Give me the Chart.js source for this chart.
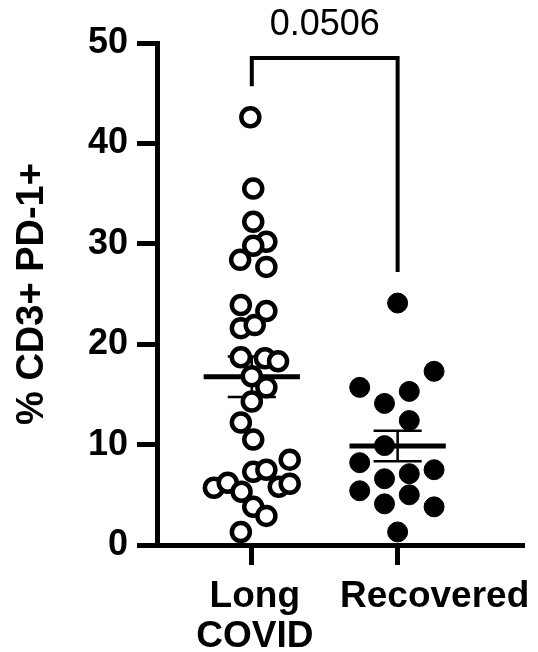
<!DOCTYPE html>
<html>
<head>
<meta charset="utf-8">
<script src="https://cdn.jsdelivr.net/npm/chart.js@4.4.1/dist/chart.umd.min.js"></script>
<style>
    html, body { margin: 0; padding: 0; background: #fff; }
    #wrap { width: 538px; height: 652px; }
</style>
</head>
<body>
<div id="wrap"><canvas id="dot-chart"></canvas></div>
<script>
const groups = ["Long COVID", "Recovered"];
const groupLabels = [["Long", "COVID"], ["Recovered"]];
const yTicks = [0, 10, 20, 30, 40, 50];

// % CD3+ PD-1+ per donor
const longCovidValues = [42.6, 35.5, 32.2, 30.2, 29.8, 28.4, 27.7, 23.9, 23.3, 21.6,
    21.9, 18.7, 18.6, 18.3, 16.8, 15.7, 14.3, 12.2, 10.5, 8.5,
    7.3, 7.5, 5.7, 6.2, 5.3, 5.8, 6.1, 3.8, 2.9, 1.3];
// horizontal scatter of each dot, in category widths
const longCovidJitter = [-0.01, 0.01, 0.01, 0.1, 0.01, -0.08, 0.1, -0.075, 0.1, -0.075,
    0.02, -0.075, 0.09, 0.18, 0, 0.1, 0, -0.075, 0.01, 0.26,
    0.01, 0.1, -0.26, -0.165, -0.07, 0.185, 0.26, 0.01, 0.1, -0.075];

const recoveredValues = [24.1, 17.3, 15.7, 15.3, 14.1, 12.4, 9.9, 8.2, 6.6, 7.1,
    7.5, 5.4, 4.1, 5.0, 3.8, 1.3];
const recoveredJitter = [0, 0.25, -0.26, 0.08, -0.09, 0.08, -0.09, -0.26, -0.09, 0.08,
    0.25, -0.26, -0.09, 0.08, 0.25, 0];

// significance bracket: top, left leg end, right leg end, label
const bracketY = [48.5, 45.7, 27.2];
const pValueText = "0.0506";
const pValueY = 50.8;

const FONT = "'Liberation Sans', Arial, Helvetica, sans-serif";
// group labels sit a little right of their tick, like in the prism export
const labelShift = [3, 37];

function toPoints(values, jitter, pos) {
    return values.map((v, i) => ({ x: pos + jitter[i], y: v }));
}

function meanSem(values) {
    const n = values.length;
    const mean = values.reduce((a, b) => a + b, 0) / n;
    const sd = Math.sqrt(values.reduce((a, b) => a + (b - mean) * (b - mean), 0) / (n - 1));
    return { mean, sem: sd / Math.sqrt(n) };
}

const summaries = [meanSem(longCovidValues), meanSem(recoveredValues)];

const meanBarsPlugin = {
    id: "meanBars",
    // mean + SEM bars, drawn under the dots
    beforeDatasetsDraw(chart) {
        const { ctx, scales: { x, y } } = chart;
        ctx.save();
        ctx.strokeStyle = "#000";
        summaries.forEach((s, i) => {
            const pos = i + 1;
            ctx.lineWidth = 5;
            ctx.beginPath();
            ctx.moveTo(x.getPixelForValue(pos - 0.33), y.getPixelForValue(s.mean));
            ctx.lineTo(x.getPixelForValue(pos + 0.33), y.getPixelForValue(s.mean));
            ctx.stroke();

            ctx.lineWidth = 2.5;
            const lo = y.getPixelForValue(s.mean - s.sem);
            const hi = y.getPixelForValue(s.mean + s.sem);
            const cx = x.getPixelForValue(pos);
            ctx.beginPath();
            ctx.moveTo(cx, lo);
            ctx.lineTo(cx, hi);
            [lo, hi].forEach(py => {
                ctx.moveTo(x.getPixelForValue(pos - 0.165), py);
                ctx.lineTo(x.getPixelForValue(pos + 0.165), py);
            });
            ctx.stroke();
        });
        ctx.restore();
    },
    afterDraw(chart) {
        const { ctx, chartArea, scales: { x, y } } = chart;
        const x1 = x.getPixelForValue(1);
        const x2 = x.getPixelForValue(2);
        ctx.save();
        ctx.strokeStyle = "#000";
        ctx.lineWidth = 4;
        ctx.lineJoin = "miter";
        ctx.beginPath();
        ctx.moveTo(x1, y.getPixelForValue(bracketY[1]));
        ctx.lineTo(x1, y.getPixelForValue(bracketY[0]));
        ctx.lineTo(x2, y.getPixelForValue(bracketY[0]));
        ctx.lineTo(x2, y.getPixelForValue(bracketY[2]));
        ctx.stroke();

        ctx.fillStyle = "#000";
        ctx.font = "36px " + FONT;
        ctx.textAlign = "center";
        ctx.textBaseline = "alphabetic";
        ctx.fillText(pValueText, (x1 + x2) / 2, y.getPixelForValue(pValueY));

        // category labels
        ctx.font = "bold 37px " + FONT;
        groupLabels.forEach((lines, i) => {
            const cx = x.getPixelForValue(i + 1) + labelShift[i];
            lines.forEach((line, j) => {
                ctx.fillText(line, cx, chartArea.bottom + 62 + j * 40);
            });
        });
        ctx.restore();
    }
};

new Chart(document.getElementById("dot-chart"), {
    type: "scatter",
    data: {
        datasets: [
            {
                label: groups[0],
                data: toPoints(longCovidValues, longCovidJitter, 1),
                pointRadius: 9,
                pointBorderWidth: 4.5,
                pointBackgroundColor: "#fff",
                pointBorderColor: "#000",
                pointHoverRadius: 9
            },
            {
                label: groups[1],
                data: toPoints(recoveredValues, recoveredJitter, 2),
                pointRadius: 10,
                pointBorderWidth: 1,
                pointBackgroundColor: "#000",
                pointBorderColor: "#000",
                pointHoverRadius: 10
            }
        ]
    },
    options: {
        responsive: true,
        maintainAspectRatio: false,
        animation: false,
        layout: { padding: { top: 43, right: 13, left: 0, bottom: 0 } },
        plugins: {
            legend: { display: false },
            tooltip: { enabled: false }
        },
        scales: {
            x: {
                type: "linear",
                min: 0.35,
                max: 2.87,
                afterFit: (scale) => { scale.height = 107; },
                afterBuildTicks: (scale) => {
                    scale.ticks = groups.map((g, i) => ({ value: i + 1 }));
                },
                ticks: { display: false },
                grid: {
                    display: true,
                    drawOnChartArea: false,
                    drawTicks: true,
                    tickLength: 20,
                    tickWidth: 5,
                    tickColor: "#000"
                },
                border: { display: true, width: 5, color: "#000" }
            },
            y: {
                min: 0,
                max: 50,
                afterFit: (scale) => { scale.width = 157; },
                afterBuildTicks: (scale) => {
                    scale.ticks = yTicks.map(v => ({ value: v }));
                },
                ticks: {
                    padding: 9,
                    color: "#000",
                    font: { family: FONT, size: 36, weight: "bold" }
                },
                title: {
                    display: true,
                    text: "% CD3+ PD-1+",
                    color: "#000",
                    padding: { top: 10, bottom: 0 },
                    font: { family: FONT, size: 38, weight: "bold", lineHeight: 1.2 }
                },
                grid: {
                    display: true,
                    drawOnChartArea: false,
                    drawTicks: true,
                    tickLength: 20,
                    tickWidth: 5,
                    tickColor: "#000"
                },
                border: { display: true, width: 5, color: "#000" }
            }
        }
    },
    plugins: [meanBarsPlugin]
});
</script>
</body>
</html>
